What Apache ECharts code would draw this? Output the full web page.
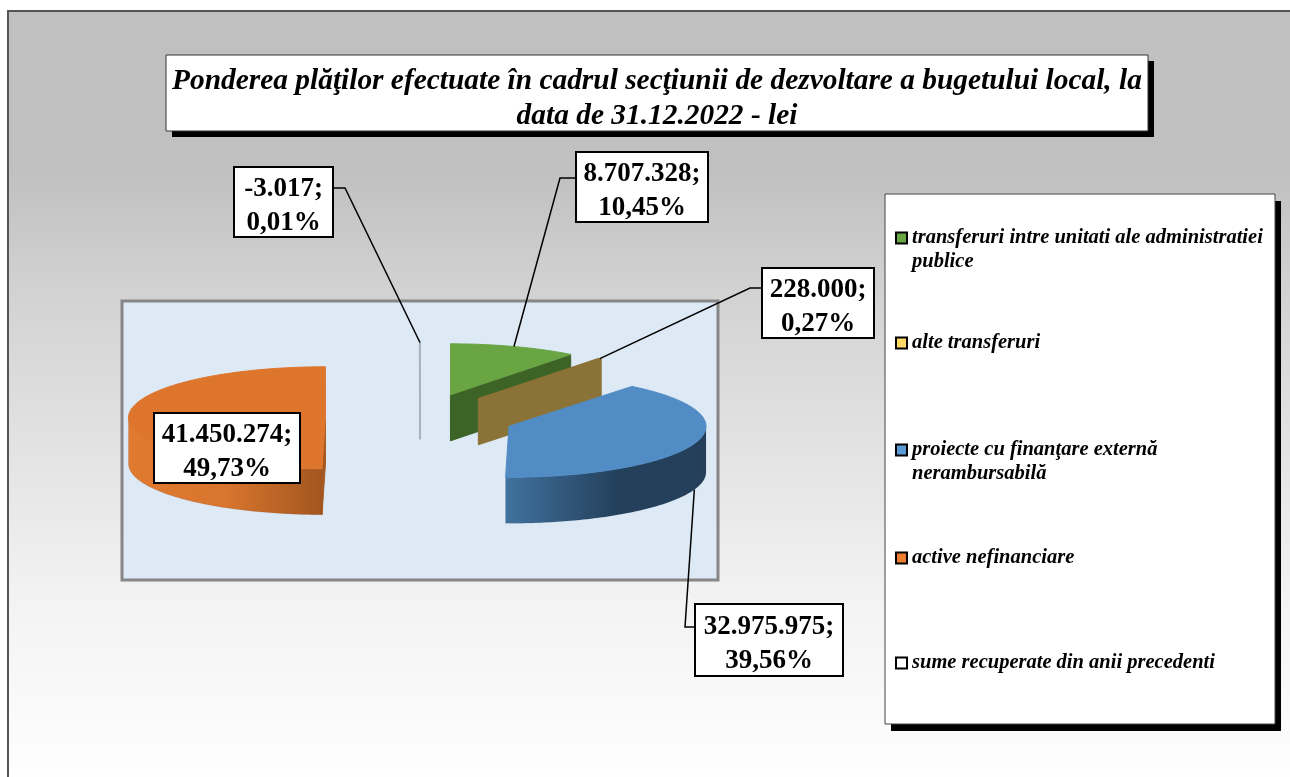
<!DOCTYPE html>
<html>
<head>
<meta charset="utf-8">
<style>html,body{margin:0;padding:0;background:#fff}#c{width:1290px;height:777px}</style>
<script src="https://cdn.jsdelivr.net/npm/echarts@6/dist/echarts.min.js"></script>
</head>
<body>
<div id="c"></div>
<script>
const titleText = 'Ponderea plăţilor efectuate în cadrul secţiunii de dezvoltare a bugetului local, la\ndata de 31.12.2022 - lei';
const categories = ['transferuri intre unitati ale administratiei publice', 'alte transferuri', 'proiecte cu finanţare externă nerambursabilă', 'active nefinanciare', 'sume recuperate din anii precedenti'];
const values = [8707328, 228000, 32975975, 41450274, -3017];
const percents = ['10,45', '0,27', '39,56', '49,73', '0,01'];

// Layout and style, separate from the data
const SERIF = '"Liberation Serif","Times New Roman",serif';
const legendColors = ['#6aa544', '#ffd966', '#5b9bd5', '#ed7d31', '#ffffff'];
const legendTops = [202, 331, 414, 546, 651];
const topColors = ['#6aa544', '#8b7337', '#518cc4', '#dd752d', '#a9b2bb'];
const faceColors = ['#3e6327', '#8b7337', '#213a53', '#a5581f', '#a9b2bb'];
const wallStops = [null, null,
  [[0, '#41729f'], [0.55, '#24415c'], [1, '#253f5b']],
  [[0, '#e07a30'], [0.5, '#d9752e'], [1, '#a2561f']],
  null];
const labelBoxes = [[576, 152, 132, 70], [762, 268, 112, 70], [695, 604, 148, 72], [154, 413, 146, 70], [234, 167, 99, 70]];
const elbows = [[[576, 178], [560, 178]], [[762, 288], [750, 288]], [[695, 627], [685, 627]], null, [[333, 188], [345, 188]]];
const PIE = {cx: 420, cy: 418, rx: 197, ry: 51, depth: 46, explode: 0.48};

const total = values.reduce((s, v) => s + Math.abs(v), 0);
const fmt = v => (v < 0 ? '-' : '') + String(Math.abs(v)).replace(/\B(?=(\d{3})+$)/g, '.');
const rad = d => d * Math.PI / 180;

let acc = 0;
const slices = values.map(v => {
  const a = acc; acc += Math.abs(v) / total * 360;
  return {a, b: acc, mid: (a + acc) / 2};
});

function renderSlice(i) {
  const s = slices[i];
  const ox = PIE.cx + PIE.explode * PIE.rx * Math.sin(rad(s.mid));
  const oy = PIE.cy - PIE.explode * PIE.ry * Math.cos(rad(s.mid));
  const pt = (deg, dz) => [ox + PIE.rx * Math.sin(rad(deg)), oy - PIE.ry * Math.cos(rad(deg)) + (dz || 0)];
  const arc = (a, b, dz) => {
    const out = [];
    const n = Math.max(1, Math.ceil(Math.abs(b - a)));
    for (let k = 0; k <= n; k++) out.push(pt(a + (b - a) * k / n, dz));
    return out;
  };
  const kids = [];
  const lw = i === 4 ? 2 : 1;
  const poly = (points, fill, stroke) => kids.push({type: 'polygon', shape: {points}, style: {fill, stroke: stroke || fill, lineWidth: lw}});
  // outer wall (front half of the ellipse only)
  const wa = Math.max(s.a, 90), wb = Math.min(s.b, 270);
  if (wb > wa) {
    const stops = wallStops[i] || [[0, faceColors[i]], [1, faceColors[i]]];
    const grad = new echarts.graphic.LinearGradient(0, 0, 1, 0, stops.map(t => ({offset: t[0], color: t[1]})));
    poly(arc(wa, wb, 0).concat(arc(wb, wa, PIE.depth)), grad, 'rgba(0,0,0,0.08)');
  }
  // radial cut faces that look towards the viewer
  const apex = [ox, oy], apexLow = [ox, oy + PIE.depth];
  if (Math.sin(rad(s.b)) > 0) poly([apex, pt(s.b), pt(s.b, PIE.depth), apexLow], faceColors[i]);
  if (Math.sin(rad(s.a)) < 0) poly([apex, pt(s.a), pt(s.a, PIE.depth), apexLow], faceColors[i]);
  // top face
  poly([apex].concat(arc(s.a, s.b, 0)), topColors[i]);
  // leader line
  if (elbows[i]) {
    const front = Math.cos(rad(s.mid)) < 0;
    const end = pt(s.mid, front ? PIE.depth : 0);
    kids.push({type: 'polyline', shape: {points: elbows[i].concat([end])}, style: {stroke: '#000', lineWidth: 1.5, fill: null}});
  }
  // data label
  const bx = labelBoxes[i];
  kids.push({type: 'rect', shape: {x: bx[0], y: bx[1], width: bx[2], height: bx[3]}, style: {fill: '#fff', stroke: '#000', lineWidth: 2}});
  kids.push({type: 'text', x: bx[0] + bx[2] / 2, y: bx[1] + bx[3] / 2 + 4, style: {
    text: fmt(values[i]) + ';\n' + percents[i] + '%', fill: '#000', align: 'center', verticalAlign: 'middle',
    font: 'bold 27px ' + SERIF, lineHeight: 34
  }});
  return {type: 'group', children: kids};
}

// A blank first line keeps the icon level with the first line of a wrapped name
const breakName = n => n.replace(/^(.*) (publice|nerambursabilă)$/, '\n$1\n$2');

const option = {
  animation: false,
  title: {
    text: titleText,
    left: 651, top: 58, textAlign: 'center', padding: [6, 6, 0, 6],
    textStyle: {fontFamily: SERIF, fontWeight: 'bold', fontStyle: 'italic', fontSize: 29.4, lineHeight: 35, color: '#000', align: 'center'}
  },
  graphic: {elements: [
    {type: 'rect', z: 0, silent: true, shape: {x: 8, y: 11, width: 1300, height: 800},
      style: {stroke: '#555', lineWidth: 2, fill: new echarts.graphic.LinearGradient(0, 0, 0, 1, [
        {offset: 0, color: '#c0c0c0'}, {offset: 0.2, color: '#c0c0c0'}, {offset: 0.35, color: '#d2d2d2'},
        {offset: 0.74, color: '#f3f3f3'}, {offset: 0.96, color: '#fefefe'}])}},
    {type: 'rect', z: 1, silent: true, shape: {x: 122, y: 301, width: 596, height: 279},
      style: {fill: '#dde9f5', stroke: '#868686', lineWidth: 3}},
    {type: 'rect', z: 1, silent: true, shape: {x: 172, y: 61, width: 982, height: 76}, style: {fill: '#000'}},
    {type: 'rect', z: 1, silent: true, shape: {x: 166, y: 55, width: 982, height: 76},
      style: {fill: '#fff', stroke: '#333', lineWidth: 1}},
    {type: 'rect', z: 1, silent: true, shape: {x: 891, y: 201, width: 390, height: 530}, style: {fill: '#000'}},
    {type: 'rect', z: 1, silent: true, shape: {x: 885, y: 194, width: 390, height: 530},
      style: {fill: '#fff', stroke: '#444', lineWidth: 1}}
  ]},
  legend: categories.map((name, i) => ({
    left: 895, top: legendTops[i], orient: 'vertical', selectedMode: false, padding: 0,
    itemWidth: 11, itemHeight: 11, itemGap: 0,
    data: [{name, icon: 'rect', itemStyle: {color: legendColors[i], borderColor: '#000', borderWidth: 2}}],
    formatter: breakName,
    textStyle: {fontFamily: SERIF, fontWeight: 'bold', fontStyle: 'italic', fontSize: 20.5, lineHeight: 24, color: '#000'}
  })),
  series: categories.map((name, i) => ({
    type: 'custom', name, coordinateSystem: 'none', silent: true, clip: false,
    data: [{name, value: Math.abs(values[i])}],
    renderItem: () => renderSlice(i)
  }))
};
const chart = echarts.init(document.getElementById('c'), null, {renderer: 'canvas'});
chart.setOption(option);
</script>
</body>
</html>
